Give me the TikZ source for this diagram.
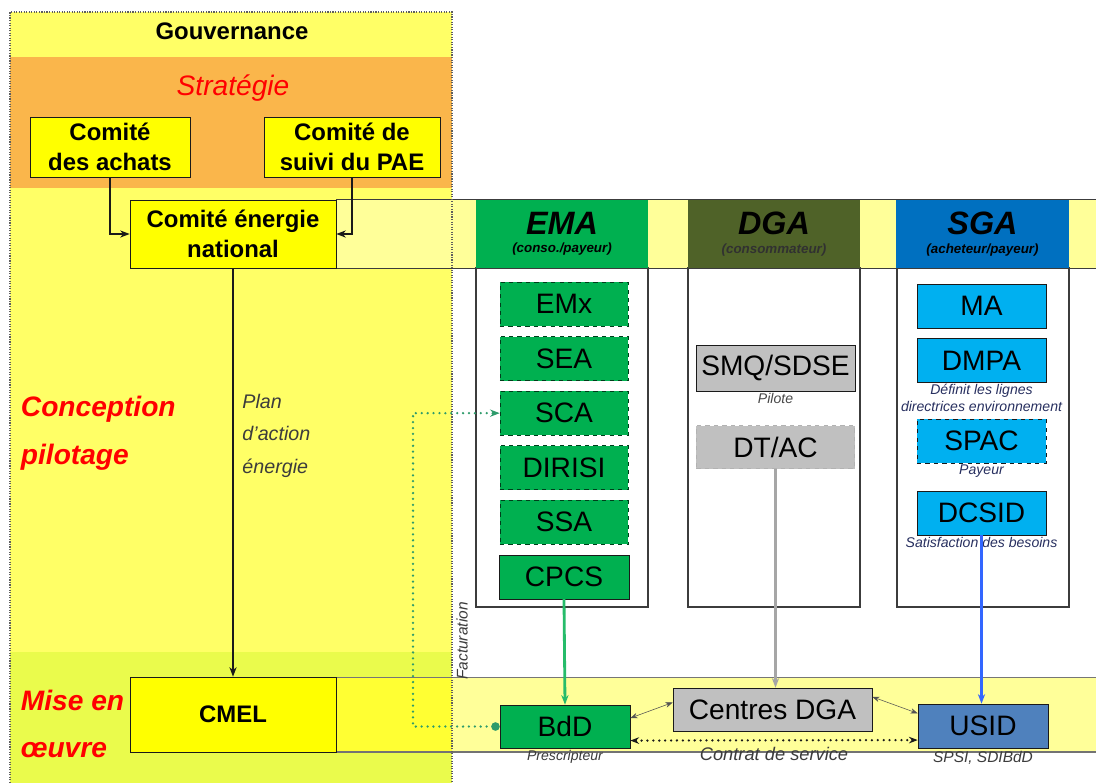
\documentclass[tikz,border=0pt]{standalone}
\usepackage{fontspec}
\setmainfont{Liberation Sans}
\usepackage{xcolor}
\definecolor{ink}{HTML}{1A1A1A}
\definecolor{cGov}{HTML}{FFFF66}
\definecolor{cStrat}{HTML}{FAB64B}
\definecolor{cLow}{HTML}{EAFB4C}
\definecolor{cBand}{HTML}{FFFF99}
\definecolor{cYel}{HTML}{FFFF00}
\definecolor{cYelLow}{HTML}{FFFF33}
\definecolor{cEma}{HTML}{00B050}
\definecolor{cDga}{HTML}{4F6228}
\definecolor{cSga}{HTML}{0070C0}
\definecolor{cSgaBox}{HTML}{00B0F0}
\definecolor{cUsid}{HTML}{4F81BD}
\definecolor{cGrey}{HTML}{C0C0C0}
\definecolor{cLink}{HTML}{3366FF}
\definecolor{cDot}{HTML}{2E9B6B}
\definecolor{cNote}{HTML}{283060}
\usepackage{tikz}
\usetikzlibrary{arrows.meta,positioning}
\tikzset{>={Stealth[length=2.4mm]},
  box/.style={draw=ink,fill=cGrey,align=center,inner sep=0pt,
    minimum width=3.2cm,minimum height=1.1cm,font=\fontsize{20}{24}\selectfont},
  emabox/.style={box,fill=cEma,dashed,draw=cEma!35!black},
  sgabox/.style={box,fill=cSgaBox},
  govbox/.style={box,fill=cYel,font=\bfseries\fontsize{17}{21}\selectfont},
  head/.style={inner sep=0pt,minimum width=4.3cm,minimum height=1.7cm,align=center,
    font=\bfseries\itshape\fontsize{9.5}{11}\selectfont},
  phase/.style={font=\bfseries\itshape\fontsize{20}{34}\selectfont,text=red,align=left},
  note/.style={font=\itshape\fontsize{10}{11.5}\selectfont,text=cNote,align=center,inner sep=1pt},
  flow/.style={->,thick,ink},
  pair/.style={{Stealth[length=1.8mm]}-{Stealth[length=1.8mm]},thin,ink!75},
  dots/.style={line width=1.8pt,line cap=round,dash pattern=on 0pt off 4.2pt}}

\begin{document}
\begin{tikzpicture}[x=0.025cm,y=-0.025cm,node distance=0.25cm]
  \useasboundingbox (0,0) rectangle (1096,783);
  \fill[white] (0,0) rectangle (1096,783);
  % gouvernance column and its bands
  \fill[cGov] (10,12) rectangle (452,783);
  \fill[cStrat] (10,57) rectangle (452,188);
  \fill[cLow] (10,652) rectangle (452,783);
  \fill[cBand] (130,200) rectangle (1096,268);
  \fill[cYelLow] (130,677) rectangle (452,752);
  \fill[cBand] (452,677) rectangle (1096,752);
  \draw[ink!85] (336,199.5) -- (1096,199.5) (336,268) -- (1096,268);
  \draw[ink!60] (336,677) -- (1096,677);
  \draw[black!55,line width=1.6pt] (336,752) -- (1096,752);
  % column bodies
  \foreach \x in {476,688,897}
    \draw[ink!85,fill=white,line width=0.8pt] (\x,268) rectangle (\x+172,607);

  \node[font=\bfseries\fontsize{17}{20}\selectfont] (gouv) at (232,31) {Gouvernance};
  \node[font=\itshape\fontsize{20}{24}\selectfont,text=red] (strat) at (233,88) {Stratégie};
  \node[phase,anchor=west] (concep) at (16,433) {Conception\\pilotage};
  \node[phase,anchor=west] (mise) at (16,724) {Mise en\\œuvre};

  \node[govbox,minimum width=4cm,minimum height=1.5cm] (achats) at (110,147) {Comité\\des achats};
  \node[govbox,minimum width=4.4cm,minimum height=1.5cm] (suivi) at (352,147) {Comité de\\suivi du PAE};
  \node[govbox,minimum width=5.15cm,minimum height=1.7cm] (cen) at (233,234) {Comité énergie\\national};
  \node[govbox,minimum width=5.15cm,minimum height=1.875cm] (cmel) at (233,714.5) {CMEL};

  % column headers
  \node[head,fill=cEma] (ema) at (562,234)
    {{\fontsize{23}{24}\selectfont EMA}\\[2pt](conso./payeur)};
  \node[head,fill=cDga] (dga) at (774,234)
    {{\fontsize{23}{24}\selectfont DGA}\\[2pt]{\color{ink!90}(consommateur)}};
  \node[head,fill=cSga] (sga) at (982.5,234)
    {{\fontsize{23}{24}\selectfont SGA}\\[2pt](acheteur/payeur)};

  % EMA
  \node[emabox] (emx) at (564,304) {EMx};
  \node[emabox,below=of emx] (sea) {SEA};
  \node[emabox,below=of sea] (sca) {SCA};
  \node[emabox,below=of sca] (dirisi) {DIRISI};
  \node[emabox,below=of dirisi] (ssa) {SSA};
  \node[box,fill=cEma,minimum width=3.25cm,below=of ssa] (cpcs) {CPCS};

  % DGA
  \node[box,minimum width=3.975cm,minimum height=1.15cm] (smq) at (775.5,368) {SMQ/SDSE};
  \node[note,text=ink!80,below=0pt of smq] (pilote) {Pilote};
  \node[box,draw=black!30,dashed,minimum width=3.95cm,minimum height=1.075cm,below=0.85cm of smq] (dtac) {DT/AC};

  % SGA
  \node[sgabox,minimum width=3.225cm] (ma) at (981.5,306) {MA};
  \node[sgabox,minimum width=3.225cm,below=of ma] (dmpa) {DMPA};
  \node[note,below=0pt of dmpa] (dmpanote) {Définit les lignes\\directrices environnement};
  \node[sgabox,dashed,minimum width=3.225cm,below=0.9cm of dmpa] (spac) {SPAC};
  \node[note,below=0pt of spac] (payeur) {Payeur};
  \node[sgabox,minimum width=3.225cm,below=0.68cm of spac] (dcsid) {DCSID};
  \node[note,below=0pt of dcsid] (besoins) {Satisfaction des besoins};

  % mise en oeuvre
  \node[box,fill=cEma,minimum width=3.25cm,minimum height=1.075cm] (bdd) at (565,726.5) {BdD};
  \node[note,text=ink!85,below=0pt of bdd] (prescr) {Prescripteur};
  \node[box,minimum width=4.975cm,minimum height=1.075cm] (centres) at (772.5,709.5) {Centres DGA};
  \node[box,fill=cUsid,minimum width=3.25cm] (usid) at (983,726) {USID};
  \node[note,text=ink!85,font=\itshape\fontsize{11}{12}\selectfont,below=1pt of usid] (spsi) {SPSI, SDIBdD};
  \node[rotate=90,font=\itshape\fontsize{11}{12}\selectfont,text=ink!85] (fact) at (462,641) {Facturation};

  % links
  \draw[flow] (achats.south) |- (cen.west);
  \draw[flow] (suivi.south) |- (cen.east);
  \draw[flow] (cen.south) -- node[pos=0.41,right=3pt,align=left,
    font=\itshape\fontsize{14}{23}\selectfont,text=ink!85] (plan) {Plan\\d'action\\énergie} (cmel.north);
  \draw[->,line width=2pt,cEma!85!white] (cpcs.south) -- (bdd.north);
  \draw[->,line width=2pt,black!35] (dtac.south) -- (dtac.south |- centres.north);
  \draw[->,line width=2pt,cLink] (dcsid.south) -- (dcsid.south |- usid.north);
  \draw[pair] ([yshift=6pt]bdd.east) -- ([yshift=5pt]centres.west);
  \draw[pair] ([yshift=9pt]centres.east) -- ([yshift=9pt]usid.west);
  \draw[{Stealth[length=2.2mm]}-{Stealth[length=2.2mm]},dots,ink]
    ([yshift=-10pt]bdd.east) -- node[below=1pt,font=\itshape\fontsize{13}{14}\selectfont,text=ink!85] (contrat)
    {Contrat de service} ([yshift=-10pt]usid.west);
  \coordinate (fx) at (413,0);
  \draw[cDot,dots,{Circle[length=6pt]}-{Stealth[length=2.4mm]}]
    (bdd.west) -- (bdd.west -| fx) |- (sca.west);

  \draw[ink!70,densely dotted,thick] (10,783) -- (10,12) -- (452,12) -- (452,783);
\end{tikzpicture}
\end{document}
